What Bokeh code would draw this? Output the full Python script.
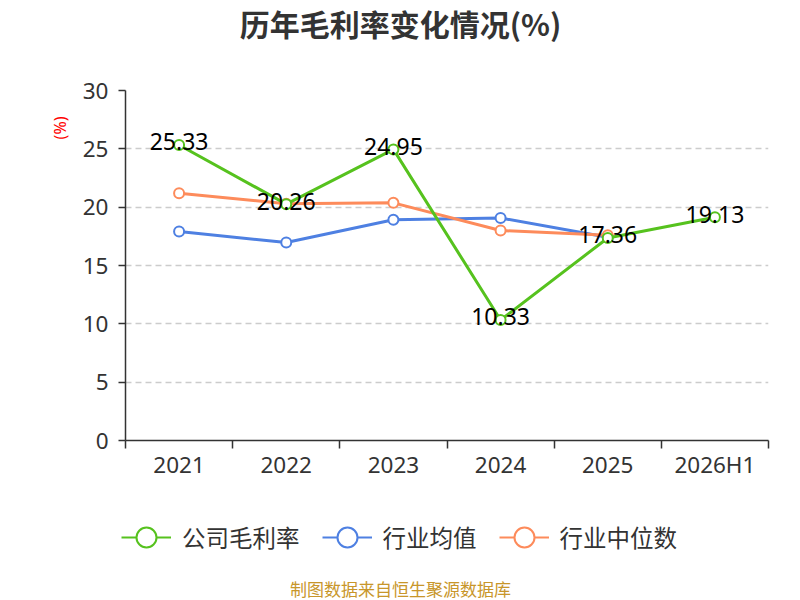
from bokeh.plotting import figure
from bokeh.layouts import column
from bokeh.models import (FixedTicker, Legend, LegendItem, Title, Label, ColumnDataSource)
from bokeh.core.properties import value
from bokeh.embed import file_html
from bokeh.resources import INLINE

categories = ["2021", "2022", "2023", "2024", "2025", "2026H1"]
company = [25.33, 20.26, 24.95, 10.33, 17.36, 19.13]
industry_avg = [17.91, 16.97, 18.92, 19.07, 17.43]
industry_median = [21.20, 20.29, 20.37, 18.00, 17.60]
y_ticks = [0, 5, 10, 15, 20, 25, 30]
series_names = ["公司毛利率", "行业均值", "行业中位数"]
title_text = "历年毛利率变化情况(%)"
footer_text = "制图数据来自恒生聚源数据库"

GREEN = "#56c21e"
BLUE = "#4e80e2"
ORANGE = "#fd8b5b"
CJK = "Noto Sans CJK SC"
LAT = "Noto Sans"

xs = [i + 0.5 for i in range(len(categories))]

def blank(h):
    f = figure(width=800, height=h, output_backend="svg", toolbar_location=None,
               x_axis_location=None, y_axis_location=None, x_range=(0, 1), y_range=(0, 1))
    f.frame_align = False
    f.min_border = 0
    f.min_border_left = f.min_border_right = f.min_border_top = f.min_border_bottom = 0
    f.outline_line_color = None
    f.grid.visible = False
    f.background_fill_color = "white"
    f.border_fill_color = "white"
    return f

# ---- top: title
top = blank(45)
top.add_layout(Label(x=400, y=23, x_units="screen", y_units="screen", text=title_text,
                     text_font=CJK, text_font_size="30px", text_font_style="bold",
                     text_color="#333333", text_align="center", text_baseline="middle"))

# ---- main plot
p = figure(width=800, height=445, output_backend="svg", toolbar_location=None,
           x_range=(0, len(categories)), y_range=(0, 30))
p.min_border_left = 125
p.min_border_right = 32
p.min_border_top = 45
p.min_border_bottom = 50
p.outline_line_color = None
p.background_fill_color = "white"
p.border_fill_color = "white"

xa = p.xaxis[0]
xa.ticker = FixedTicker(ticks=xs, minor_ticks=list(range(len(categories) + 1)))
xa.major_label_overrides = {x: c for x, c in zip(xs, categories)}
xa.major_tick_line_color = None
xa.major_tick_out = 0
xa.major_tick_in = 0
xa.minor_tick_out = 8
xa.minor_tick_in = 0
xa.minor_tick_line_color = "#333333"
xa.minor_tick_line_width = 1.5
xa.axis_line_color = "#333333"
xa.axis_line_width = 1.5
xa.major_label_text_font = LAT
xa.major_label_text_font_size = "22.5px"
xa.major_label_text_color = "#333333"
xa.major_label_standoff = 0

ya = p.yaxis[0]
ya.ticker = FixedTicker(ticks=y_ticks, minor_ticks=[])
ya.major_tick_out = 7
ya.major_tick_in = 0
ya.major_tick_line_color = "#333333"
ya.major_tick_line_width = 1.5
ya.axis_line_color = "#333333"
ya.axis_line_width = 1.5
ya.major_label_text_font = LAT
ya.major_label_text_font_size = "22.5px"
ya.major_label_text_color = "#333333"
ya.major_label_standoff = 10

p.xgrid.grid_line_color = None
p.ygrid.ticker = FixedTicker(ticks=y_ticks[1:])
p.ygrid.grid_line_color = "#cccccc"
p.ygrid.grid_line_dash = "6 4"
p.ygrid.grid_line_width = 1.5

def series(vals, color):
    src = ColumnDataSource(dict(x=xs[:len(vals)], y=vals))
    p.line("x", "y", source=src, line_color=color, line_width=3)
    p.scatter("x", "y", source=src, marker="circle", size=10, fill_color="white",
              line_color=color, line_width=2)

series(industry_avg, BLUE)
series(industry_median, ORANGE)
series(company, GREEN)

lbl_src = ColumnDataSource(dict(x=xs, y=company, t=[f"{v:.2f}" for v in company]))
p.text("x", "y", text="t", source=lbl_src, text_align="center", text_baseline="middle",
       y_offset=-3, text_font=value(LAT), text_font_size="23px", text_color="#000000")

ytitle = Title(text="(%)", align="right", offset=26, standoff=18, text_font=LAT,
               text_font_size="16px", text_color="red", text_font_style="normal")
p.add_layout(ytitle, "left")

# ---- bottom: legend + footer (legend handles: no visible data)
bot = blank(110)
items = []
for name, color in zip(series_names, [GREEN, BLUE, ORANGE]):
    handle = ColumnDataSource(dict(x=[float("nan")], y=[float("nan")]))
    ln = bot.line("x", "y", source=handle, line_color=color, line_width=2)
    sc = bot.scatter("x", "y", source=handle, marker="circle", fill_color="white",
                     line_color=color, line_width=2)
    items.append(LegendItem(label=name, renderers=[ln, sc]))
legend = Legend(items=items, orientation="horizontal", location=(121, 38))
legend.label_text_font = CJK
legend.label_text_font_size = "23.5px"
legend.label_text_color = "#333333"
legend.glyph_width = 50
legend.glyph_height = 50
legend.spacing = 22
legend.label_standoff = 11
legend.border_line_color = None
legend.background_fill_alpha = 0
legend.padding = 0
legend.margin = 0
bot.add_layout(legend)

bot.add_layout(Label(x=400, y=12, x_units="screen", y_units="screen", text=footer_text,
                     text_font=CJK, text_font_size="17px", text_color="#c8962a",
                     text_align="center", text_baseline="middle"))

layout = column(top, p, bot, spacing=0)
open("out.html", "w").write(file_html(layout, INLINE))
